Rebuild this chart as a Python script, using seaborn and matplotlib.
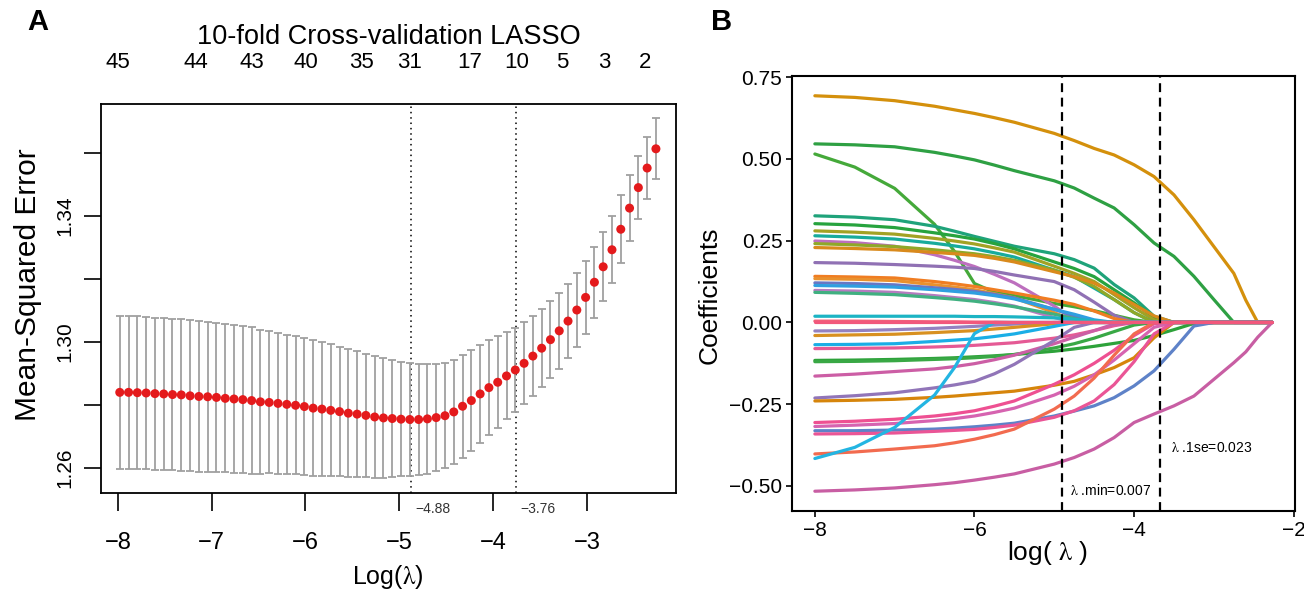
import numpy as np
import pandas as pd
import matplotlib
matplotlib.use("Agg")
import matplotlib.pyplot as plt
import seaborn as sns

# --- Panel A : 10-fold CV LASSO (glmnet style) ---
log_lambda = np.linspace(-7.98, -2.264, 62)  # regular glmnet lambda grid

mse = [1.2840, 1.2840, 1.2839, 1.2838, 1.2836, 1.2835, 1.2833, 1.2832, 1.2829, 1.2827,
       1.2826, 1.2824, 1.2821, 1.2819, 1.2817, 1.2814, 1.2810, 1.2808, 1.2805, 1.2802,
       1.2799, 1.2795, 1.2790, 1.2787, 1.2783, 1.2779, 1.2774, 1.2771, 1.2767, 1.2762,
       1.2759, 1.2757, 1.2755, 1.2754, 1.2754, 1.2756, 1.2760, 1.2766, 1.2778, 1.2796,
       1.2814, 1.2835, 1.2855, 1.2872, 1.2892, 1.2911, 1.2932, 1.2955, 1.2980, 1.3007,
       1.3035, 1.3066, 1.3101, 1.3141, 1.3189, 1.3238, 1.3292, 1.3357, 1.3424, 1.3489,
       1.3551, 1.3612]

se = [0.0243, 0.0243, 0.0242, 0.0242, 0.0241, 0.0241, 0.0240, 0.0240, 0.0239, 0.0238,
      0.0237, 0.0236, 0.0235, 0.0234, 0.0233, 0.0232, 0.0229, 0.0225, 0.0223, 0.0221,
      0.0219, 0.0217, 0.0215, 0.0212, 0.0209, 0.0205, 0.0202, 0.0199, 0.0196, 0.0193,
      0.0189, 0.0185, 0.0181, 0.0179, 0.0177, 0.0174, 0.0170, 0.0167, 0.0165, 0.0163,
      0.0160, 0.0156, 0.0151, 0.0146, 0.0138, 0.0133, 0.0130, 0.0127, 0.0123, 0.0122,
      0.0120, 0.0118, 0.0116, 0.0115, 0.0112, 0.0109, 0.0106, 0.0107, 0.0104, 0.0100,
      0.0097, 0.0097]

top_pos = [-8.0, -7.17, -6.57, -6.0, -5.40, -4.89, -4.25, -3.75, -3.26, -2.81, -2.38]
top_labels = ['45', '44', '43', '40', '35', '31', '17', '10', '5', '3', '2']
cv_min, cv_1se = -4.88, -3.76

# --- Panel B : coefficient paths ---
grid = [-8, -7.5, -7, -6.5, -6.25, -6, -5.75, -5.5, -5, -4.75, -4.5, -4.25, -4, -3.75,
        -3.5, -3.25, -3, -2.75, -2.6, -2.45, -2.27]

paths = {
    'v01': [0.693, 0.688, 0.678, 0.661, 0.650, 0.639, 0.626, 0.612, 0.578, 0.556, 0.532, 0.512, 0.482, 0.446, 0.390, 0.314, 0.232, 0.150, 0.068, 0, 0],
    'v02': [0.546, 0.543, 0.537, 0.520, 0.509, 0.497, 0.481, 0.464, 0.433, 0.411, 0.380, 0.350, 0.299, 0.243, 0.202, 0.141, 0.070, 0, 0, 0, 0],
    'v03': [0.515, 0.475, 0.410, 0.300, 0.217, 0.119, 0.092, 0.082, 0.058, 0.048, 0.036, 0.022, 0.008, 0, 0, 0, 0, 0, 0, 0, 0],
    'v04': [0.326, 0.322, 0.314, 0.294, 0.279, 0.263, 0.248, 0.233, 0.210, 0.192, 0.166, 0.116, 0.075, 0.019, 0, 0, 0, 0, 0, 0, 0],
    'v05': [0.302, 0.298, 0.290, 0.274, 0.265, 0.255, 0.241, 0.225, 0.185, 0.165, 0.140, 0.100, 0.060, 0.015, 0, 0, 0, 0, 0, 0, 0],
    'v06': [0.280, 0.276, 0.270, 0.257, 0.249, 0.240, 0.228, 0.215, 0.172, 0.150, 0.125, 0.085, 0.045, 0.008, 0, 0, 0, 0, 0, 0, 0],
    'v07': [0.265, 0.261, 0.255, 0.242, 0.234, 0.225, 0.213, 0.200, 0.160, 0.140, 0.105, 0.070, 0.030, 0, 0, 0, 0, 0, 0, 0, 0],
    'v08': [0.249, 0.244, 0.233, 0.207, 0.190, 0.171, 0.147, 0.121, 0.050, 0.008, 0, 0, 0, 0, 0, 0, 0, 0, 0, 0, 0],
    'v09': [0.241, 0.237, 0.232, 0.222, 0.216, 0.210, 0.201, 0.190, 0.160, 0.138, 0.110, 0.070, 0.030, 0, 0, 0, 0, 0, 0, 0, 0],
    'v10': [0.229, 0.226, 0.222, 0.214, 0.210, 0.205, 0.196, 0.185, 0.155, 0.140, 0.120, 0.090, 0.055, 0.020, 0, 0, 0, 0, 0, 0, 0],
    'v11': [0.183, 0.181, 0.177, 0.172, 0.169, 0.165, 0.156, 0.145, 0.125, 0.100, 0.062, 0.022, 0, 0, 0, 0, 0, 0, 0, 0, 0],
    'v12': [0.141, 0.139, 0.136, 0.125, 0.118, 0.110, 0.100, 0.090, 0.068, 0.055, 0.035, 0.012, 0, 0, 0, 0, 0, 0, 0, 0, 0],
    'v13': [0.134, 0.132, 0.128, 0.115, 0.108, 0.100, 0.088, 0.075, 0.030, 0.005, 0, 0, 0, 0, 0, 0, 0, 0, 0, 0, 0],
    'v14': [0.121, 0.119, 0.115, 0.106, 0.101, 0.095, 0.086, 0.075, 0.040, 0.020, 0, 0, 0, 0, 0, 0, 0, 0, 0, 0, 0],
    'v15': [0.113, 0.111, 0.108, 0.100, 0.095, 0.090, 0.082, 0.072, 0.040, 0.025, 0.008, 0, 0, 0, 0, 0, 0, 0, 0, 0, 0],
    'v16': [0.098, 0.096, 0.092, 0.082, 0.076, 0.070, 0.061, 0.050, 0.015, 0, 0, 0, 0, 0, 0, 0, 0, 0, 0, 0, 0],
    'v17': [0.092, 0.089, 0.085, 0.076, 0.071, 0.065, 0.057, 0.048, 0.025, 0.012, 0, 0, 0, 0, 0, 0, 0, 0, 0, 0, 0],
    'v18': [0.019, 0.019, 0.019, 0.019, 0.019, 0.018, 0.018, 0.017, 0.014, 0.010, 0.005, 0, 0, 0, 0, 0, 0, 0, 0, 0, 0],
    'v19': [0.004, 0.004, 0.003, 0.002, 0.002, 0.001, 0.001, 0, 0, 0, 0, 0, 0, 0, 0, 0, 0, 0, 0, 0, 0],
    'v20': [-0.026, -0.025, -0.022, -0.018, -0.015, -0.012, -0.008, -0.005, 0, 0, 0, 0, 0, 0, 0, 0, 0, 0, 0, 0, 0],
    'v21': [-0.040, -0.038, -0.036, -0.031, -0.028, -0.025, -0.020, -0.015, -0.004, 0, 0, 0, 0, 0, 0, 0, 0, 0, 0, 0, 0],
    'v22': [-0.068, -0.067, -0.065, -0.058, -0.054, -0.050, -0.043, -0.035, -0.012, 0, 0, 0, 0, 0, 0, 0, 0, 0, 0, 0, 0],
    'v23': [-0.080, -0.079, -0.078, -0.075, -0.073, -0.070, -0.066, -0.062, -0.048, -0.038, -0.025, -0.010, 0, 0, 0, 0, 0, 0, 0, 0, 0],
    'v24': [-0.116, -0.115, -0.113, -0.110, -0.108, -0.105, -0.102, -0.098, -0.088, -0.081, -0.073, -0.064, -0.055, -0.040, -0.022, -0.003, 0, 0, 0, 0, 0],
    'v25': [-0.120, -0.119, -0.117, -0.113, -0.111, -0.108, -0.104, -0.098, -0.078, -0.065, -0.048, -0.028, -0.008, 0, 0, 0, 0, 0, 0, 0, 0],
    'v26': [-0.164, -0.158, -0.150, -0.142, -0.135, -0.126, -0.114, -0.100, -0.065, -0.045, -0.025, -0.005, 0, 0, 0, 0, 0, 0, 0, 0, 0],
    'v27': [-0.231, -0.224, -0.215, -0.200, -0.191, -0.180, -0.157, -0.128, -0.055, -0.015, 0, 0, 0, 0, 0, 0, 0, 0, 0, 0, 0],
    'v28': [-0.240, -0.238, -0.235, -0.229, -0.225, -0.220, -0.215, -0.210, -0.192, -0.180, -0.160, -0.138, -0.108, -0.047, 0, 0, 0, 0, 0, 0, 0],
    'v29': [-0.306, -0.302, -0.296, -0.286, -0.279, -0.270, -0.256, -0.240, -0.189, -0.160, -0.125, -0.085, -0.040, -0.004, 0, 0, 0, 0, 0, 0, 0],
    'v30': [-0.318, -0.314, -0.309, -0.300, -0.294, -0.286, -0.275, -0.262, -0.222, -0.195, -0.160, -0.115, -0.065, -0.015, 0, 0, 0, 0, 0, 0, 0],
    'v31': [-0.331, -0.331, -0.329, -0.326, -0.323, -0.319, -0.314, -0.308, -0.286, -0.271, -0.255, -0.230, -0.194, -0.148, -0.082, -0.011, 0, 0, 0, 0, 0],
    'v32': [-0.341, -0.340, -0.338, -0.333, -0.330, -0.327, -0.321, -0.314, -0.290, -0.270, -0.240, -0.190, -0.120, -0.035, 0, 0, 0, 0, 0, 0, 0],
    'v33': [-0.402, -0.396, -0.387, -0.377, -0.368, -0.357, -0.343, -0.326, -0.265, -0.225, -0.170, -0.100, -0.035, 0, 0, 0, 0, 0, 0, 0, 0],
    'v34': [-0.416, -0.382, -0.321, -0.222, -0.138, -0.034, 0, 0, 0, 0, 0, 0, 0, 0, 0, 0, 0, 0, 0, 0, 0],
    'v35': [-0.516, -0.512, -0.506, -0.496, -0.490, -0.482, -0.473, -0.463, -0.433, -0.413, -0.387, -0.352, -0.306, -0.280, -0.255, -0.225, -0.174, -0.123, -0.090, -0.045, 0],
    'v36': [0, 0, 0, 0, 0, 0, 0, 0, 0, 0, 0, 0, 0, 0, 0, 0, 0, 0, 0, 0, 0],
}

path_colors = {
    'v01': '#D4900C', 'v02': '#2EA043', 'v03': '#45A93A', 'v04': '#1FA37A',
    'v05': '#27A33E', 'v06': '#A2A224', 'v07': '#17AB9C', 'v08': '#BD6FBE',
    'v09': '#8FA828', 'v10': '#D98A1C', 'v11': '#9071B4', 'v12': '#F07D22',
    'v13': '#E9912E', 'v14': '#6877C4', 'v15': '#2F9FE0', 'v16': '#B57CC0',
    'v17': '#40B080', 'v18': '#1CB4C4', 'v19': '#F0607A', 'v20': '#9481C0',
    'v21': '#D89020', 'v22': '#1AAEE6', 'v23': '#E55A95', 'v24': '#2DA23A',
    'v25': '#39A845', 'v26': '#CC5EA5', 'v27': '#9175B8', 'v28': '#D6850B',
    'v29': '#EE5092', 'v30': '#D663B0', 'v31': '#5E82C8', 'v32': '#EA5596',
    'v33': '#F26B4F', 'v34': '#23B5E2', 'v35': '#C85EA3', 'v36': '#F2587C',
}

b_min, b_1se = -4.90, -3.68

sns.set_theme(style='white')
plt.rcParams['font.family'] = ['Liberation Sans', 'DejaVu Sans']
plt.rcParams['mathtext.fontset'] = 'stix'
for key in ('text.color', 'axes.labelcolor', 'xtick.color', 'ytick.color'):
    plt.rcParams[key] = 'black'

W, H = 1304, 596
fig = plt.figure(figsize=(W / 100, H / 100), dpi=100)

# ---------------- Panel A ----------------
axA = fig.add_axes([101 / W, (H - 493) / H, 575 / W, 389 / H])
axA.errorbar(log_lambda, mse, yerr=se, fmt='none', ecolor='#A0A0A0',
             elinewidth=1.3, capsize=3.2, capthick=1.3, zorder=2)
sns.scatterplot(x=log_lambda, y=mse, ax=axA, color='#E41A1C', s=42,
                edgecolor='none', linewidth=0, zorder=3)
for v in (cv_min, cv_1se):
    axA.axvline(v, color='black', lw=1.1, ls=(0, (1, 2.5)), zorder=1)

axA.set_xlim(-8.18, -2.05)
axA.set_ylim(1.2521, 1.3754)
axA.set_xticks([-8, -7, -6, -5, -4, -3])
axA.set_yticks([1.26, 1.28, 1.30, 1.32, 1.34, 1.36])
axA.set_yticklabels(['1.26', '', '1.30', '', '1.34', ''])
axA.tick_params(axis='x', bottom=True, length=13, width=1.2, pad=15, labelsize=17, color='black')
axA.tick_params(axis='y', left=True, length=12, width=1.2, pad=7, labelsize=15, color='black')
plt.setp(axA.get_yticklabels(), rotation=90, va='center')
for s in axA.spines.values():
    s.set_color('black')
    s.set_linewidth(1.3)

axA.text(cv_min + 0.05, -0.04, '\u22124.88', transform=axA.get_xaxis_transform(),
         ha='left', va='center', fontsize=10, color='#333333')
axA.text(cv_1se + 0.05, -0.04, '\u22123.76', transform=axA.get_xaxis_transform(),
         ha='left', va='center', fontsize=10, color='#333333')

axT = axA.twiny()
axT.set_xlim(axA.get_xlim())
axT.set_xticks(top_pos)
axT.set_xticklabels(top_labels)
axT.tick_params(axis='x', top=True, length=0, pad=22, labelsize=16)
for s in axT.spines.values():
    s.set_visible(False)

fig.text(388.5 / W, 1 - 37 / H, '10-fold Cross-validation LASSO', ha='center', va='center', fontsize=19.5)
fig.text(28 / W, 1 - 285 / H, 'Mean-Squared Error', rotation=90, ha='center', va='center', fontsize=21.5)
fig.text(388 / W, 1 - 577 / H, r'Log($\mathrm{\lambda}$)', ha='center', va='center', fontsize=18)

# ---------------- Panel B ----------------
rows = []
for name, vals in paths.items():
    for x, y in zip(grid, vals):
        rows.append({'loglam': x, 'coef': y, 'var': name})
df = pd.DataFrame(rows)

axB = fig.add_axes([792 / W, (H - 511) / H, 503 / W, 435 / H])
sns.lineplot(data=df, x='loglam', y='coef', hue='var', hue_order=list(paths.keys()),
             palette=path_colors, estimator=None, linewidth=2.3, legend=False, ax=axB)
for v in (b_min, b_1se):
    axB.axvline(v, color='black', lw=1.6, ls=(0, (4, 2.5)), zorder=5)

xr = max(grid) - min(grid)
allv = [y for vals in paths.values() for y in vals]
yr = max(allv) - min(allv)
axB.set_xlim(min(grid) - 0.05 * xr, max(grid) + 0.05 * xr)
axB.set_ylim(min(allv) - 0.05 * yr, max(allv) + 0.05 * yr)
axB.set_xticks([-8, -6, -4, -2])
axB.set_yticks([-0.5, -0.25, 0, 0.25, 0.5, 0.75])
axB.set_yticklabels(['\u22120.50', '\u22120.25', '0.00', '0.25', '0.50', '0.75'])
axB.tick_params(axis='both', bottom=True, left=True, length=4, width=1.2, pad=3,
                labelsize=15, color='black', labelcolor='black')
for s in axB.spines.values():
    s.set_color('black')
    s.set_linewidth(1.5)
axB.set_xlabel('')
axB.set_ylabel('')

axB.text(b_min + 0.1, -0.514, r'$\mathrm{\lambda}$ .min=0.007', ha='left', va='center', fontsize=10)
axB.text(b_1se + 0.14, -0.384, r'$\mathrm{\lambda}$ .1se=0.023', ha='left', va='center', fontsize=10)

fig.text(710 / W, 1 - 295 / H, 'Coefficients', rotation=90, ha='center', va='center', fontsize=19)
fig.text(1047 / W, 1 - 553 / H, r'log( $\mathrm{\lambda}$ )', ha='center', va='center', fontsize=19)

fig.text(38 / W, 1 - 22 / H, 'A', ha='center', va='center', fontsize=21, fontweight='bold')
fig.text(722 / W, 1 - 22 / H, 'B', ha='center', va='center', fontsize=21, fontweight='bold')

fig.savefig('out.png', dpi=100)
